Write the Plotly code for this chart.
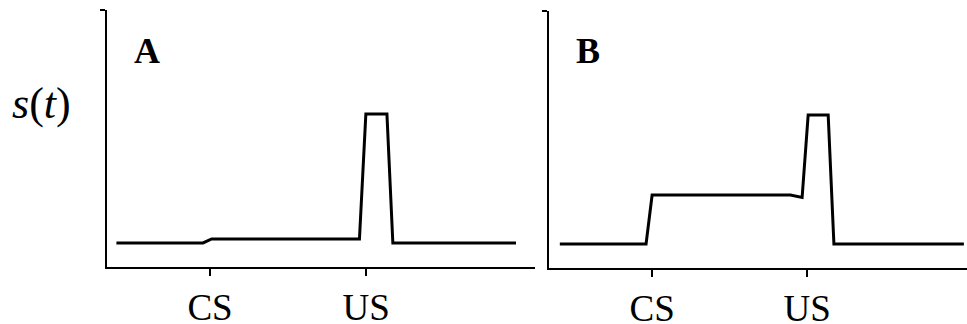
import plotly.graph_objects as go

# Time axis: CS at t=10, US at t=20
tick_vals = [10, 20]
tick_labels = ["CS", "US"]

# Panel A: s(t)
time_a = [4.0, 9.55, 10.1, 19.57, 19.98, 21.33, 21.71, 29.6]
s_a = [0.0, 0.0, 0.031, 0.031, 1.0, 1.0, 0.0, 0.0]

# Panel B: s(t)
time_b = [4.05, 9.61, 10.0, 18.92, 19.67, 20.06, 21.35, 21.72, 30.1]
s_b = [0.0, 0.0, 0.38, 0.38, 0.36, 1.0, 1.0, 0.0, 0.0]

panel_labels = ["A", "B"]

x_range_a = [3.4, 30.8]
x_range_b = [3.35, 30.3]
y_range = [-0.186, 1.806]

fig = go.Figure()
fig.add_trace(go.Scatter(x=time_a, y=s_a, mode="lines", xaxis="x", yaxis="y",
                         line=dict(color="black", width=3), showlegend=False))
fig.add_trace(go.Scatter(x=time_b, y=s_b, mode="lines", xaxis="x2", yaxis="y2",
                         line=dict(color="black", width=3), showlegend=False))

serif = "Liberation Serif, Times New Roman, serif"

xcommon = dict(showgrid=False, zeroline=False, showline=True,
               linecolor="black", linewidth=2, ticks="outside", ticklen=7,
               tickwidth=2, tickcolor="black", tickvals=tick_vals, ticktext=tick_labels,
               tickfont=dict(family=serif, size=37, color="black"),
               ticklabelstandoff=0, automargin=False)
ycommon = dict(range=y_range, showgrid=False, zeroline=False, showline=True,
               linecolor="black", linewidth=2, ticks="outside", ticklen=5,
               tickwidth=2, tickcolor="black", tickvals=[y_range[1]], ticktext=[""],
               automargin=False)

fig.update_layout(
    width=967, height=324,
    margin=dict(l=0, r=0, t=0, b=0),
    paper_bgcolor="white", plot_bgcolor="white",
    xaxis=dict(domain=[0.1107, 0.553], anchor="y", range=x_range_a, **xcommon),
    yaxis=dict(domain=[0.176, 0.969], anchor="x", **ycommon),
    xaxis2=dict(domain=[0.5677, 1.0], anchor="y2", range=x_range_b, **xcommon),
    yaxis2=dict(domain=[0.173, 0.966], anchor="x2", **ycommon),
)

fig.add_annotation(text="<b>%s</b>" % panel_labels[0], xref="paper", yref="paper",
                   x=0.152, y=0.843, xanchor="center", yanchor="middle", showarrow=False,
                   font=dict(family=serif, size=36, color="black"))
fig.add_annotation(text="<b>%s</b>" % panel_labels[1], xref="paper", yref="paper",
                   x=0.608, y=0.843, xanchor="center", yanchor="middle", showarrow=False,
                   font=dict(family=serif, size=36, color="black"))
fig.add_annotation(text="<i>s</i>(<i>t</i>)", xref="paper", yref="paper",
                   x=0.0424, y=0.682, xanchor="center", yanchor="middle", showarrow=False,
                   font=dict(family=serif, size=44, color="black"))

fig.write_html("out.html", config={"displayModeBar": False},
               post_script="document.body.style.margin='0';document.body.style.overflow='hidden';")
